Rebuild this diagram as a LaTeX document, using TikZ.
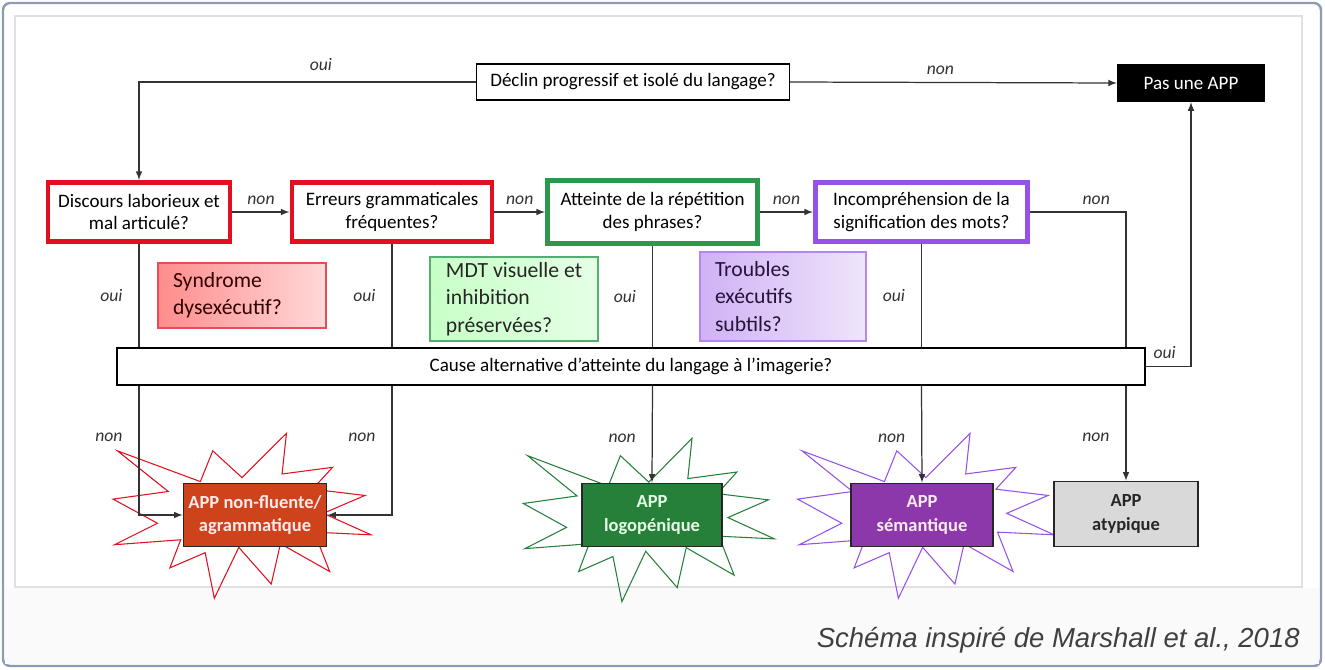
\documentclass[tikz,border=0pt]{standalone}
\usepackage{fontspec}
\setmainfont{Carlito}
\newfontfamily\capfont{Liberation Sans}
\usetikzlibrary{arrows}

\definecolor{apred}{RGB}{226,16,30}
\definecolor{apgreen}{RGB}{44,152,78}
\definecolor{appurple}{RGB}{150,82,232}
\definecolor{nffill}{RGB}{206,66,28}
\definecolor{logofill}{RGB}{38,128,58}
\definecolor{semfill}{RGB}{140,56,170}
\definecolor{framecol}{RGB}{140,156,178}
\newdimen\pxu \pxu=0.5676pt

\tikzset{explosion/.pic={
\draw[pic actions] (0.5,0.2685) -- (0.6723,0) -- (0.6553,0.2465) -- (0.8509,0.2063) -- (0.7732,0.3387)
  -- (0.9767,0.3767) -- (0.8151,0.4850) -- (1,0.6153) -- (0.7795,0.5992) -- (0.8400,0.8377)
  -- (0.6491,0.6693) -- (0.6133,0.9138) -- (0.4876,0.6914) -- (0.3928,1) -- (0.3572,0.7235)
  -- (0.2205,0.8156) -- (0.2624,0.6452) -- (0.00625,0.6753) -- (0.1723,0.5451) -- (0,0.3988)
  -- (0.2142,0.3526) -- (0.0171,0.1063) -- (0.3385,0.2926) -- (0.3867,0.1063) -- cycle;
}}

\begin{document}
\begin{tikzpicture}[x=0.5676pt,y=-0.5676pt]
\tikzstyle{every node}+=[inner sep=0pt, font=\fontsize{10.8}{13}\selectfont]
\tikzstyle{boxsize}=[minimum width=#1\pxu]
\tikzstyle{qbox}=[draw, fill=white, line width=0.7pt, align=center, minimum height=36\pxu]
\tikzstyle{redbox}=[qbox, draw=apred, line width=2.8pt, minimum height=59\pxu]
\tikzstyle{greenbox}=[qbox, draw=apgreen, line width=2.8pt, minimum height=63\pxu]
\tikzstyle{purplebox}=[qbox, draw=appurple, line width=2.8pt, minimum height=59\pxu]
\tikzstyle{hint}=[draw, line width=0.6pt, align=left, font=\fontsize{12.3}{15.5}\selectfont, inner xsep=15\pxu]
\tikzstyle{appbox}=[draw=black!85, line width=0.9pt, align=center, minimum height=63\pxu, font=\fontsize{10.5}{13.5}\selectfont\bfseries]
\tikzstyle{lbl}=[font=\fontsize{10}{12}\selectfont\itshape, text=black!80]
\tikzstyle{link}=[draw=black!80, line width=0.7pt, -latex]
\tikzstyle{wire}=[draw=black!80, line width=0.7pt]

\useasboundingbox (0,0) rectangle (1325,670);
\draw[framecol, line width=1.4pt, rounded corners=4pt, fill=white] (3,3) rectangle (1321,666);
\fill[black!2] (5,588) rectangle (1319,664);
\draw[black!12, line width=0.6pt, fill=white] (15,16) rectangle (1302,587);

\begin{scope}[shift={(113,433.3)}, x=146.44pt, y=-93.65pt]
  \pic[draw=apred, line width=0.6pt] {explosion};
\end{scope}
\begin{scope}[shift={(523.3,438.3)}, x=142.47pt, y=-92.75pt]
  \pic[draw=logofill, line width=0.6pt] {explosion};
\end{scope}
\begin{scope}[shift={(797.6,433.3)}, x=145.59pt, y=-93.65pt]
  \pic[draw=appurple, line width=0.6pt] {explosion};
\end{scope}

\node[qbox, boxsize=313] (declin) at (633,82) {Déclin progressif et isolé du langage?};
\node[qbox, boxsize=147, fill=black, text=white, minimum height=37\pxu] (pas) at (1191,83) {Pas une APP};

\node[redbox, boxsize=182] (disc) at (139,212) {Discours laborieux et\\mal articulé?};
\node[redbox, boxsize=200] (err) at (392,212) {Erreurs grammaticales\\fréquentes?};
\node[greenbox, boxsize=210] (att) at (652.5,212) {Atteinte de la répétition\\des phrases?};
\node[purplebox, boxsize=212] (inc) at (921.5,212) {Incompréhension de la\\signification des mots?};

\node[hint, boxsize=168, minimum height=65\pxu, text width=138\pxu, draw=apred!75, left color=red!45!white, right color=red!15!white, text=red!20!black] (synd) at (242,295.5) {Syndrome\\dysexécutif?};
\node[hint, boxsize=168, minimum height=84\pxu, draw=apgreen!80, left color=green!22!white, right color=green!10!white, text=black!85] (mdt) at (514,299) {MDT visuelle et\\inhibition\\préservées?};
\node[hint, boxsize=166, minimum height=89\pxu, text width=136\pxu, draw=appurple!70, left color=appurple!45!white, right color=appurple!15!white, text=appurple!25!black] (trb) at (783,296.5) {Troubles\\exécutifs\\subtils?};

\node[qbox, boxsize=1028, minimum height=37\pxu] (cause) at (631,366.5) {Cause alternative d’atteinte du langage à l’imagerie?};

\node[appbox, boxsize=143, fill=nffill, text=red!8!white] (nf) at (255,515) {APP non-fluente/\\agrammatique};
\node[appbox, boxsize=140, fill=logofill, text=green!10!white] (logo) at (652,515) {APP\\logopénique};
\node[appbox, boxsize=142, fill=semfill, text=purple!8!white] (sem) at (922,515) {APP\\sémantique};
\node[appbox, boxsize=144, fill=black!15, minimum height=65\pxu, text=black!85] (atyp) at (1126,514) {APP\\atypique};

\draw[link] (declin.west) -| (disc.north) node[lbl, pos=0.23, above=6pt] {oui};
\draw[link] (declin.east) -- (pas.west) node[lbl, pos=0.46, above=4pt] {non};
\draw[link] (disc) -- (err) node[lbl, midway, above=4pt] {non};
\draw[link] (err) -- (att) node[lbl, midway, above=4pt] {non};
\draw[link] (att) -- (inc) node[lbl, midway, above=4pt] {non};
\draw[wire] (inc.east) -| (cause.north -| atyp.north) node[lbl, pos=0.345, above=4pt] {non};

\draw[wire] (disc.south) -- (disc.south |- cause.north) node[lbl, pos=0.5, left=9pt] {oui};
\draw[wire] (err.south) -- (err.south |- cause.north) node[lbl, pos=0.5, left=9pt] {oui};
\draw[wire] (att.south) -- (att.south |- cause.north) node[lbl, pos=0.5, left=9pt] {oui};
\draw[wire] (inc.south) -- (inc.south |- cause.north) node[lbl, pos=0.5, left=9pt] {oui};
\draw[link] (cause.east) -| (pas.south) node[lbl, pos=0.21, above=4pt] {oui};

\draw[link] (disc.south |- cause.south) |- (nf.west) node[lbl, pos=0.2, left=9pt] {non};
\draw[link] (err.south |- cause.south) |- (nf.east) node[lbl, pos=0.2, left=9pt] {non};
\draw[link] (att.south |- cause.south) -- (logo.north) node[lbl, pos=0.54, left=9pt] {non};
\draw[link] (inc.south |- cause.south) -- (sem.north) node[lbl, pos=0.54, left=9pt] {non};
\draw[link] (cause.south -| atyp.north) -- (atyp.north) node[lbl, pos=0.54, left=9pt] {non};

\node[anchor=east, font=\capfont\itshape\fontsize{15.6}{18}\selectfont, text=black!75] (src) at (1300,640) {Schéma inspiré de Marshall et al., 2018};
\end{tikzpicture}
\end{document}
